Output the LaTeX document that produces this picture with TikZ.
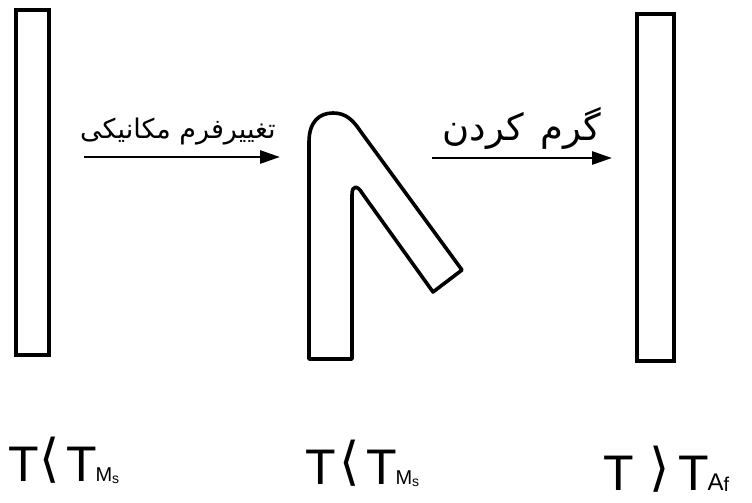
\documentclass[tikz,border=0pt]{standalone}
\usepackage{fontspec}
\usetikzlibrary{arrows.meta}
\TeXXeTstate=1
\newfontfamily\arabicfont[Script=Arabic]{DejaVu Sans}
\newfontfamily\labfont{Liberation Sans}
\newfontfamily\symfont{DejaVu Sans}
\newcommand{\ltsign}{\raisebox{5pt}{\symfont\fontsize{52}{54}\selectfont ⟨}}
\newcommand{\gtsign}{\raisebox{5pt}{\symfont\fontsize{52}{54}\selectfont ⟩}}
\begin{document}
\begin{tikzpicture}[x=1pt,y=-1pt,
  rod/.style={line width=3.2pt,line join=miter},
  arr/.style={line width=2.8pt,-{Triangle[length=20pt,width=13pt]}},
  fa/.style={inner sep=0pt,anchor=base,font=\arabicfont\fontsize{27}{30}\selectfont},
  tlab/.style={inner sep=0pt,anchor=base west,font=\labfont\fontsize{50}{56}\selectfont}]
\useasboundingbox (0,0) rectangle (752,503);
% left rod
\draw[rod] (16,10) rectangle (49,355);
% right rod
\draw[rod] (637,14) rectangle (674,361);
% bent rod
\draw[line width=3.6pt,line join=round]
  (309,359) -- (309,142)
  .. controls (309,122) and (319,113) .. (333,113)
  .. controls (346,113) and (353,120) .. (361,132)
  -- (462,270) -- (433,292) -- (362,193)
  .. controls (358,186) and (352,184) .. (352,195)
  -- (352,359) -- cycle;
% arrows
\coordinate (a1s) at (84,157);
\coordinate (a1e) at (280,157);
\coordinate (a2s) at (432,158);
\coordinate (a2e) at (612,158);
\draw[arr] (a1s) -- (a1e);
\draw[arr] (a2s) -- (a2e);
% Persian labels
\node[fa] (l1) at (178,138) {\beginR تغییرفرم مکانیکی\endR};
\node[fa,font=\arabicfont\fontsize{37}{40}\selectfont] (l2) at (522,140) {\beginR گرم\hspace{16pt}کردن\endR};
% temperature labels
\node[tlab] (t1) at (8,481) {T\kern1pt\ltsign\kern6pt T\kern-1pt{\fontsize{20}{20}\selectfont M\raisebox{-2pt}{\fontsize{14}{14}\selectfont s}}};
\node[tlab] (t2) at (305,484) {T\kern4pt\ltsign\kern6pt T\kern-1pt{\fontsize{20}{20}\selectfont M\raisebox{-2pt}{\fontsize{14}{14}\selectfont s}}};
\node[tlab] (t3) at (603,490) {T\kern16pt\gtsign\kern8pt T\kern-1pt{\fontsize{24}{24}\selectfont A\raisebox{-1pt}{\fontsize{20}{20}\selectfont f}}};
\end{tikzpicture}
\end{document}
